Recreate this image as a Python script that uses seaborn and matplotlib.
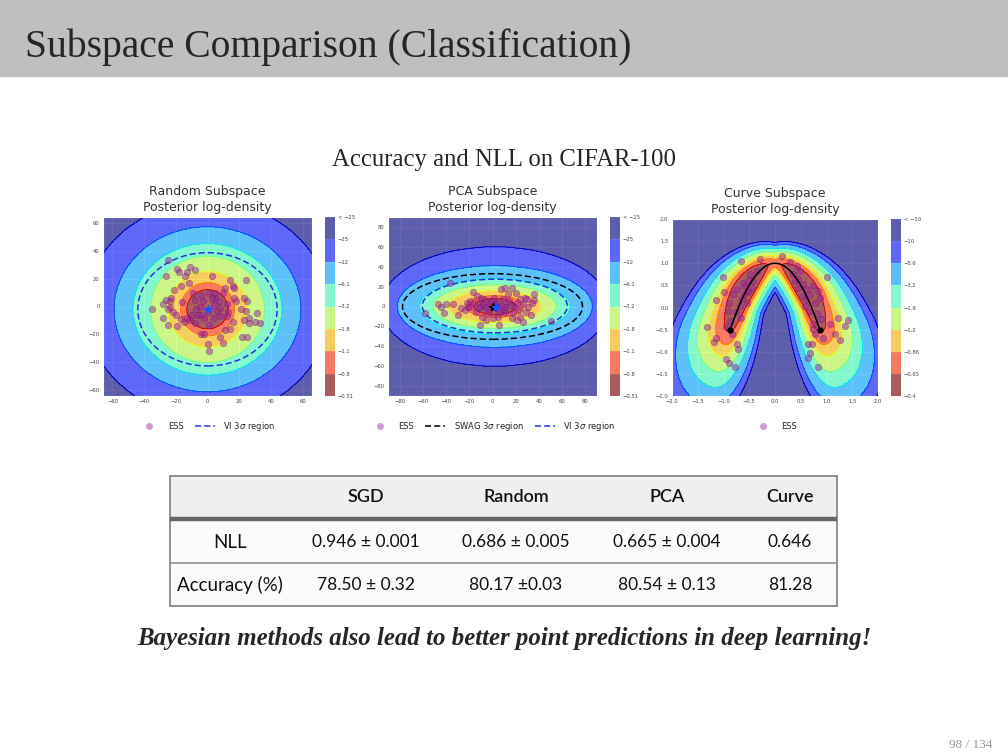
import numpy as np
import matplotlib
matplotlib.use("Agg")
import matplotlib.pyplot as plt
import seaborn as sns
from matplotlib.lines import Line2D
from matplotlib.patches import Ellipse, Rectangle

sns.set_style("darkgrid")
plt.rcParams['font.family'] = ['DejaVu Sans']

# ---------------- data ----------------
# Random subspace: ESS samples, SGD point, contour radii, VI region
rand_ess_x = [-25, -26, -19, -18, -13, -11, -8, -14, -17, -21,
              -23, -24, -24, -26, -28, -35, -25, -22, -20, -28,
              -25, -19, -17, -15, -13, -11, -10, -6, -7, -5,
              -3, -8, -9, -4, 1, 3, 0, -2, 1, -4,
              -2, 0, 1, 5, 7, 10, 11, 5, 3, 14,
              16, 17, 18, 13, 12, 8, 4, 16, 14, 11,
              8, 10, 24, 23, 25, 21, 24, 23, 26, 30,
              33, 31, 26, 22, 25, 17, 4, 8, -4, -8,
              6, -16, 12, -12]
rand_ess_y = [33, 22, 27, 25, 25, 28, 26, 22, 15, 12,
              6, 4, 0, 5, 2, -2, -2, -4, -6, -8,
              -13, -14, -9, -11, -8, -10, -6, -6, -2, 0,
              4, 5, 10, 8, 10, 22, -4, -8, -13, -20,
              -20, -27, -32, 6, 4, 10, 13, 10, 6, 19,
              15, 13, 4, -4, -7, -7, -8, -11, -16, -17,
              -22, -26, 19, 6, 4, -2, -3, -10, -12, -11,
              -12, -5, -8, -22, -22, 6, 1, -1, -6, -12,
              -3, 3, 2, 17]
rand_center = (0, -2)
rand_level_a = [13, 17, 25, 36, 47, 59, 77]
rand_level_b = [14, 19, 27, 38, 47, 59, 77]
rand_vi = (0, -2, 44, 40.5)
rand_cbar_labels = ["−0.51", "−0.8", "−1.1", "−1.8", "−3.2", "−6.1", "−12", "−25", "< −25"]

# PCA subspace
pca_ess_x = [-37, -47, -44, -40, -42, -58, -34, -30, -27, -24,
             -21, -17, -19, -16, -14, -11, -10, -7, -6, -4,
             -2, 1, 3, 5, 6, 7, 11, 17, 20, 14,
             11, 11, 17, 21, 23, 26, 28, 30, 31, 34,
             36, 36, 33, 29, 50, -10, -19, -9, 0, 4,
             9, 13, 19, 21, 24, 26, -13, -22, 6, -6,
             -3, 2, 8, -8, 15, -1, 10, -12, 24, 18]
pca_ess_y = [24, 3, 0, 3, -7, -7, 3, -9, -2, -4,
             -1, 15, 6, 4, -6, -19, 1, 8, -1, -7,
             4, 9, -2, -11, -19, 18, 19, 19, 14, 6,
             -1, -7, -12, -14, -4, 3, 9, 8, -1, 4,
             13, 7, -9, -6, -15, 9, -1, -11, -12, 4,
             8, 13, -1, 4, -11, -16, 11, 4, -6, -14,
             -3, 2, 1, 3, 2, 6, -4, -2, 8, -7]
pca_center = (2, 0)
pca_level_a = [18, 25, 40, 53, 65, 84, 98]
pca_level_b = [8, 11, 16, 22, 28, 41, 60]
pca_swag = (0, 0, 77.5, 33)
pca_vi = (2, 0.5, 62.5, 27)
pca_cbar_labels = ["−0.51", "−0.8", "−1.1", "−1.8", "−3.2", "−6.1", "−12", "−25", "< −25"]

# Curve subspace
curve_ess_x = [-0.66, -1.01, -0.99, -1.14, -1.32, -1.19, -1.15, -0.95, -0.89, -0.77,
               -0.71, -0.74, -0.84, -0.87, -0.92, -0.90, -0.81, -0.73, -0.68, -0.55,
               -0.52, -0.45, -0.58, -0.48, -0.42, -0.35, -0.29, -0.55, -0.65, -0.75,
               -0.66, -0.61, 0.13, 0.29, 0.42, 0.48, 0.35, 0.45, 0.55, 0.61,
               0.68, 0.74, 0.84, 0.88, 0.77, 0.61, 0.52, 0.58, 0.68, 0.81,
               0.90, 0.74, 0.77, 0.74, 0.94, 1.06, 1.23, 1.41, 1.35, 1.16,
               1.26, 1.01, 0.65, 0.68, 0.71, 0.84, 0.65, 0.45, 0.39, -0.62,
               -0.50, -0.95]
curve_ess_y = [1.04, 0.68, 0.34, 0.17, -0.44, -0.79, -0.70, -1.17, -1.26, -1.34,
               -0.94, -0.83, -0.59, -0.30, -0.08, 0.11, 0.30, 0.42, 0.04, 0.11,
               0.34, 0.45, 0.49, 0.75, 0.60, 0.83, 1.09, 0.38, 0.19, -0.11,
               -0.23, 0.30, 1.17, 1.02, 0.94, 0.83, 0.75, 0.64, 0.53, 0.42,
               0.30, 0.49, 0.38, 0.21, 0.11, 0.19, 0.26, 0.04, -0.08, -0.15,
               -0.26, -0.38, -0.60, -0.49, -0.68, -0.38, -0.24, -0.29, -0.42, -0.60,
               -0.74, 0.69, -0.83, -1.02, -0.83, -1.34, -1.13, 0.45, 0.60, 0.55,
               0.62, -0.45]
curve_ctrl_x = [-0.87, 0.0, 0.87]
curve_ctrl_y = [-0.5, 2.5, -0.5]
# density model around the curve (width outside / inside, along-curve bump)
curve_w_out = (0.5, 0.72)
curve_w_in = (0.52, 0.6, 0.7)
curve_bump = (0.142, 0.52, 0.38, 3.5, 0.85)
curve_levels = [-0.01, 0.09, 0.15, 0.23, 0.37, 0.54, 0.78, 1.0]
curve_cbar_labels = ["−0.4", "−0.65", "−0.86", "−1.2", "−1.9", "−3.2", "−5.6", "−10", "< −10"]

# table
table_cols = ["SGD", "Random", "PCA", "Curve"]
table_rows = ["NLL", "Accuracy (%)"]
nll_vals = ["0.946 ± 0.001", "0.686 ± 0.005", "0.665 ± 0.004", "0.646"]
acc_vals = ["78.50 ± 0.32", "80.17 ±0.03", "80.54 ± 0.13", "81.28"]

# ---------------- styling ----------------
band_colors = plt.cm.jet(np.linspace(1, 0, 8))
line_colors = plt.cm.jet((7 - np.arange(7) - 0.5) / 7)
ess_color = '#9b1f9b'
vi_color = '#2233e0'
dash = (0, (4, 2))

W, H = 1008, 756
fig = plt.figure(figsize=(10.08, 7.56), dpi=100)


def box(l, t, r, b):
    return [l / W, 1 - b / H, (r - l) / W, (b - t) / H]


def nested_field(X, Y, center, la, lb):
    F = np.zeros_like(X)
    for a, b in zip(la, lb):
        e = ((X - center[0]) / a) ** 2 + ((Y - center[1]) / b) ** 2
        F += (e >= 1)
    return F


def style_axes(ax, title):
    ax.set_title(title, fontsize=9, color='#333333', pad=4, linespacing=1.3)
    ax.tick_params(labelsize=3.8, colors='#444444', length=0, pad=2.5)
    ax.grid(True, color='white', lw=0.8)


def add_cbar(cf, rect, labels):
    cax = fig.add_axes(rect)
    cb = fig.colorbar(cf, cax=cax, ticks=cf.levels)
    cb.ax.set_yticklabels(labels)
    cb.ax.tick_params(labelsize=3.8, colors='#444444', length=0, pad=2)
    cb.outline.set_visible(False)


def draw_ess(ax, xs, ys):
    sns.scatterplot(x=xs, y=ys, ax=ax, color=ess_color, s=22, alpha=0.5,
                    edgecolor='#6a106a', linewidth=0.4, zorder=4, legend=False)


# header band and titles
fig.add_artist(Rectangle((0, 1 - 76 / H), 1, 76 / H, transform=fig.transFigure,
                         color='#bfbfbf', zorder=0))
fig.text(25 / W, 1 - 57 / H, "Subspace Comparison (Classification)",
         family='Liberation Serif', fontsize=28.5, va='baseline', ha='left')
fig.text(504 / W, 1 - 166 / H, "Accuracy and NLL on CIFAR-100",
         family='Liberation Serif', fontsize=17.8, va='baseline', ha='center')

ess_h = Line2D([], [], marker='o', ls='', color=ess_color, alpha=0.45,
               markersize=5, markeredgewidth=0, label='ESS')
vi_h = Line2D([], [], color=vi_color, ls=dash, lw=1.1, label='VI 3$\\sigma$ region')
swag_h = Line2D([], [], color='black', ls=dash, lw=1.1, label='SWAG 3$\\sigma$ region')
leg_kw = dict(loc='center', bbox_to_anchor=(0.5, -0.17), frameon=False, fontsize=6,
              handlelength=2.4, handletextpad=1.0, columnspacing=1.4)

# ---- panel 1: random subspace ----
ax1 = fig.add_axes(box(103, 217, 312, 396))
gx = np.linspace(-66, 66, 500)
gy = np.linspace(-64, 64, 500)
X, Y = np.meshgrid(gx, gy)
F = nested_field(X, Y, rand_center, rand_level_a, rand_level_b)
lv = np.arange(-0.5, 8, 1.0)
cf1 = ax1.contourf(X, Y, F, levels=lv, colors=band_colors, alpha=0.6)
ax1.contour(X, Y, F, levels=lv[1:-1], colors=line_colors, linewidths=0.6)
ax1.add_patch(Ellipse(rand_vi[:2], 2 * rand_vi[2], 2 * rand_vi[3], fill=False,
                      ec=vi_color, ls=dash, lw=1.1, zorder=3))
draw_ess(ax1, rand_ess_x, rand_ess_y)
ax1.plot([rand_center[0]], [rand_center[1]], marker='*', color='#1f4fff', ms=6, zorder=5)
ax1.set_xlim(-66, 66)
ax1.set_ylim(-64, 64)
ax1.set_xticks(range(-60, 61, 20))
ax1.set_yticks(range(-60, 61, 20))
style_axes(ax1, "Random Subspace\nPosterior log-density")
ax1.legend(handles=[ess_h, vi_h], ncol=2, **leg_kw)
add_cbar(cf1, box(325, 217, 335, 396), rand_cbar_labels)

# ---- panel 2: PCA subspace ----
ax2 = fig.add_axes(box(388, 217, 597, 396))
gx = np.linspace(-90, 90, 500)
gy = np.linspace(-90, 90, 500)
X, Y = np.meshgrid(gx, gy)
F = nested_field(X, Y, pca_center, pca_level_a, pca_level_b)
cf2 = ax2.contourf(X, Y, F, levels=lv, colors=band_colors, alpha=0.6)
ax2.contour(X, Y, F, levels=lv[1:-1], colors=line_colors, linewidths=0.6)
ax2.add_patch(Ellipse(pca_swag[:2], 2 * pca_swag[2], 2 * pca_swag[3], fill=False,
                      ec='black', ls=dash, lw=1.1, zorder=3))
ax2.add_patch(Ellipse(pca_vi[:2], 2 * pca_vi[2], 2 * pca_vi[3], fill=False,
                      ec=vi_color, ls=dash, lw=1.1, zorder=3))
draw_ess(ax2, pca_ess_x, pca_ess_y)
ax2.plot([0], [0], marker='*', color='black', ms=6, zorder=5)
ax2.plot([3], [-1], marker='*', color='#1f4fff', ms=6, zorder=5)
ax2.set_xlim(-90, 90)
ax2.set_ylim(-90, 90)
ax2.set_xticks(range(-80, 81, 20))
ax2.set_yticks(range(-80, 81, 20))
style_axes(ax2, "PCA Subspace\nPosterior log-density")
ax2.legend(handles=[ess_h, swag_h, vi_h], ncol=3, **leg_kw)
add_cbar(cf2, box(610, 217, 620, 396), pca_cbar_labels)


# ---- panel 3: curve subspace ----
def bezier(u):
    bx = (1 - u) ** 2 * curve_ctrl_x[0] + 2 * u * (1 - u) * curve_ctrl_x[1] + u ** 2 * curve_ctrl_x[2]
    by = (1 - u) ** 2 * curve_ctrl_y[0] + 2 * u * (1 - u) * curve_ctrl_y[1] + u ** 2 * curve_ctrl_y[2]
    return bx, by


ax3 = fig.add_axes(box(672, 219, 878, 396))
gx = np.linspace(-2, 2, 320)
gy = np.linspace(-2, 2, 320)
X, Y = np.meshgrid(gx, gy)
ux, uy = bezier(np.linspace(-0.75, 1.75, 900))
D = np.empty_like(X)
T = np.empty_like(X)
for i in range(len(gy)):
    d2 = (X[i][:, None] - ux[None, :]) ** 2 + (Y[i][:, None] - uy[None, :]) ** 2
    j = d2.argmin(1)
    D[i] = np.sqrt(d2[np.arange(len(gx)), j])
    T[i] = np.abs(ux[j])
u_at_x = (X - curve_ctrl_x[0]) / (curve_ctrl_x[2] - curve_ctrl_x[0])
inside = Y < bezier(u_at_x)[1]
w_out = curve_w_out[0] + curve_w_out[1] * T
w_in = curve_w_in[0] + curve_w_in[1] * np.maximum(0, T - curve_w_in[2])
Wd = np.where(inside, w_in, w_out)
c0, tc, ts, c2, te = curve_bump
G = c0 * (1 - np.exp(-((T - tc) / ts) ** 2)) + c2 * np.maximum(0, T - te) ** 2
F = (D / Wd) ** 2 + G
lv3 = curve_levels + [max(F.max(), 2.0) + 1]
cf3 = ax3.contourf(X, Y, F, levels=lv3, colors=band_colors, alpha=0.6)
ax3.contour(X, Y, F, levels=lv3[1:-1], colors=line_colors, linewidths=0.6)
draw_ess(ax3, curve_ess_x, curve_ess_y)
cx_line, cy_line = bezier(np.linspace(0, 1, 200))
ax3.plot(cx_line, cy_line, color='black', lw=1.1, zorder=5)
ax3.plot([curve_ctrl_x[0], curve_ctrl_x[2]], [curve_ctrl_y[0], curve_ctrl_y[2]], 'o',
         color='black', ms=3.5, zorder=6)
ax3.set_xlim(-2, 2)
ax3.set_ylim(-2, 2)
ax3.set_xticks(np.arange(-2, 2.01, 0.5))
ax3.set_yticks(np.arange(-2, 2.01, 0.5))
style_axes(ax3, "Curve Subspace\nPosterior log-density")
ax3.legend(handles=[ess_h], ncol=1, **leg_kw)
add_cbar(cf3, box(891, 219, 901, 396), curve_cbar_labels)

# ---- results table ----
axt = fig.add_axes(box(165, 470, 845, 612))
axt.set_xlim(165, 845)
axt.set_ylim(612, 470)
axt.axis('off')
axt.add_patch(Rectangle((170, 476), 667, 42, fc='#efefef', ec='none'))
axt.add_patch(Rectangle((170, 520), 667, 86, fc='#fbfafd', ec='none'))
axt.plot([170, 837], [519, 519], color='#666666', lw=3.2, solid_capstyle='butt')
axt.plot([170, 837], [563, 563], color='#999999', lw=1.3)
axt.add_patch(Rectangle((170, 476), 667, 130, fc='none', ec='#888888', lw=1.3))
col_x = [366, 516, 667, 790]
for x, c in zip(col_x, table_cols):
    axt.text(x, 497, c, ha='center', va='center', family='Lato', fontsize=13,
             fontweight='semibold', color='#111111')
row_y = [542, 585]
for y, r, vals in zip(row_y, table_rows, [nll_vals, acc_vals]):
    axt.text(230, y, r, ha='center', va='center', family='Lato', fontsize=13.5,
             color='#111111')
    for x, v in zip(col_x, vals):
        axt.text(x, y, v, ha='center', va='center', family='Lato', fontsize=12.5,
                 color='#111111')

# footer
fig.text(504 / W, 1 - 645 / H,
         "Bayesian methods also lead to better point predictions in deep learning!",
         family='Liberation Serif', fontsize=17.9, fontweight='bold', fontstyle='italic',
         ha='center', va='baseline')
fig.text(971 / W, 1 - 748 / H, "98 / 134", family='Liberation Serif', fontsize=9.5,
         color='#999999', ha='center', va='baseline')

fig.savefig("out.png", dpi=100)
